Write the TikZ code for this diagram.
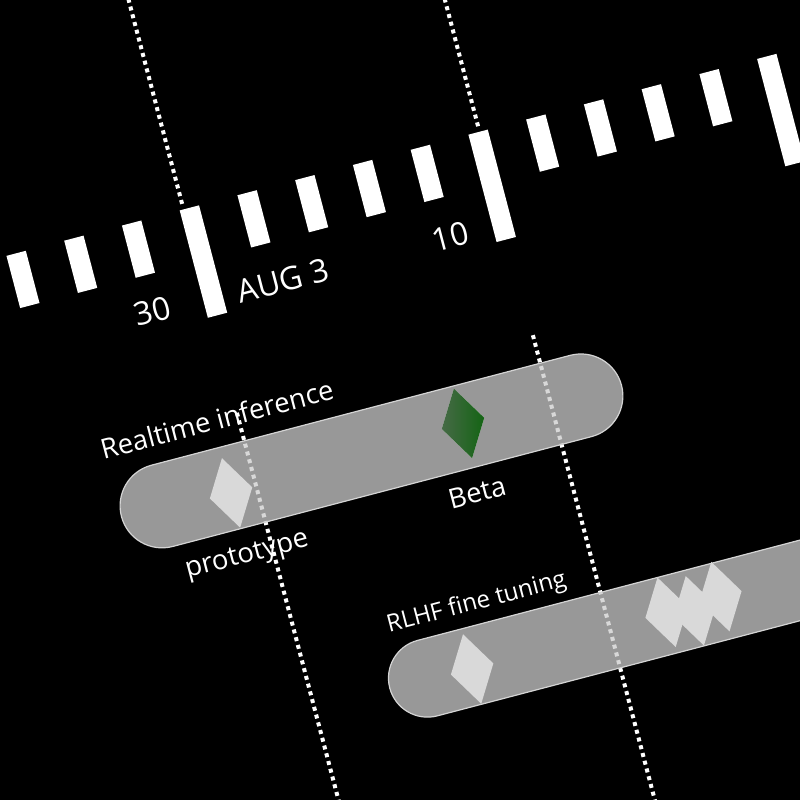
\documentclass[tikz,border=0pt]{standalone}
\usepackage{fontspec}
\setmainfont{Open Sans}
\usetikzlibrary{shapes.geometric}
\definecolor{pillfill}{HTML}{CCCCCC}
\definecolor{pillline}{HTML}{D4D4D4}
\definecolor{msgray}{HTML}{D9D9D9}
\definecolor{betaL}{HTML}{466A46}
\definecolor{betaR}{HTML}{146414}
\begin{document}
\begin{tikzpicture}[x=1pt,y=1pt,
  tickbar/.style={fill=white, draw=none, inner sep=0, minimum width=20, anchor=north},
  dotline/.style={white, line width=4, dash pattern=on 4 off 4},
  ticklabel/.style={text=white, inner sep=0, font=\fontsize{32}{38}\selectfont},
  barlabel/.style={text=white, inner sep=0, font=\fontsize{27.5}{33}\selectfont},
  barlabelsmall/.style={text=white, inner sep=0, font=\fontsize{24}{29}\selectfont},
  pill/.style={fill=pillfill, fill opacity=0.75, draw=pillline, line width=1.2, inner sep=0},
  milestone/.style={diamond, fill=msgray, draw=none, inner sep=0, minimum width=44, minimum height=72}
]
\useasboundingbox (0,0) rectangle (800,-800);
\fill[black] (0,0) rectangle (800,-800);
\clip (0,0) rectangle (800,-800);
\begin{scope}[shift={(400,-400)}, rotate=14.7, transform shape]
  % tick bars
  \foreach \k in {0,...,15}{
    \pgfmathsetmacro\uu{-155+59.7*(\k-4)}
    \pgfmathtruncatemacro\mm{mod(\k+1,5)}
    \ifnum\mm=0
      \node[tickbar, minimum height=111] (tick\k) at (\uu,239.5) {};
    \else
      \node[tickbar, minimum height=54] (tick\k) at (\uu,239.5) {};
    \fi
  }
  % header dotted lines
  \coordinate (hA1) at (-161,245);
  \coordinate (hA2) at (-161,700);
  \coordinate (hB1) at (145,245);
  \coordinate (hB2) at (145,700);
  \draw[dotline] (hA1) -- (hA2);
  \draw[dotline] (hB1) -- (hB2);
  % tick labels
  \node[ticklabel] (l30) at (-217,149) {30};
  \node[ticklabel] (laug) at (-83,145) {AUG 3};
  \node[ticklabel] (l10) at (90,145) {10};
  % bar labels
  \node[barlabel] (lrt) at (-182,28) {Realtime inference};
  \node[barlabel] (lproto) at (-187.5,-112.5) {prototype};
  \node[barlabel] (lbeta) at (51,-109) {Beta};
  \node[barlabelsmall] (lrlhf) at (22.6,-216) {RLHF fine tuning};
  % body dotted lines
  \coordinate (bA1) at (-161,29);
  \coordinate (bA2) at (-161,-700);
  \coordinate (bB1) at (145,29);
  \coordinate (bB2) at (145,-700);
  \draw[dotline] (bA1) -- (bA2);
  \draw[dotline] (bB1) -- (bB2);
  % bars
  \node[pill, minimum width=517, minimum height=84, rounded corners=42] (p1) at (-40.5,-42) {};
  \node[pill, minimum width=783, minimum height=78, rounded corners=39] (p2) at (308.5,-276) {};
  % milestones
  \node[milestone] (m1) at (-187,-47) {};
  \node[milestone, left color=betaL, right color=betaR] (m2) at (55,-38.6) {};
  \node[milestone] (m3) at (1.5,-278.5) {};
  \node[milestone] (m4) at (204,-273) {};
  \node[milestone] (m5) at (231.7,-278.7) {};
  \node[milestone] (m6) at (260,-271.5) {};
\end{scope}
\end{tikzpicture}
\end{document}
